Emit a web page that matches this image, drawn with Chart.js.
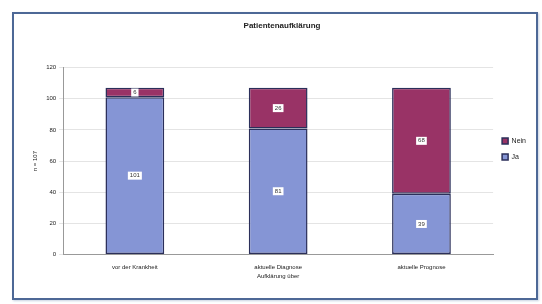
<!DOCTYPE html>
<html>
<head>
<meta charset="utf-8">
<script src="https://cdn.jsdelivr.net/npm/chart.js@4"></script>
<style>
  html, body { margin: 0; padding: 0; background: #fff; }
  #wrap { position: relative; width: 542px; height: 304px; }
  #frame {
    position: absolute; left: 12px; top: 12px; width: 522px; height: 284px;
    border: 2px solid #4d6896; box-shadow: 1px 1px 2px #c8d2e2;
  }
  canvas { position: absolute; left: 0; top: 0; }
</style>
</head>
<body>
<div id="wrap">
  <div id="frame"></div>
  <canvas id="chart" width="542" height="304"></canvas>
</div>
<script>
// Data
const categories = ['vor der Krankheit', 'aktuelle Diagnose', 'aktuelle Prognose'];
const jaValues = [101, 81, 39];
const neinValues = [6, 26, 68];
const yTicks = [0, 20, 40, 60, 80, 100, 120];

const BLUE = '#8595d5';
const RED = '#993366';

// draws the value labels in white boxes, centred in each segment
const boxLabels = {
    id: 'boxLabels',
    afterDatasetsDraw(chart) {
        const c = chart.ctx;
        c.save();
        c.font = '6px "Liberation Sans", Arial, sans-serif';
        c.textAlign = 'center';
        c.textBaseline = 'middle';
        chart.data.datasets.forEach((ds, i) => {
            chart.getDatasetMeta(i).data.forEach((bar, j) => {
                const txt = String(ds.data[j]);
                const w = c.measureText(txt).width + 4;
                const y = (bar.y + bar.base) / 2;
                c.fillStyle = '#fff';
                c.fillRect(bar.x - w / 2, y - 4, w, 8);
                c.fillStyle = '#333';
                c.fillText(txt, bar.x, y);
            });
        });
        c.restore();
    }
};

const ctx = document.getElementById('chart').getContext('2d');
new Chart(ctx, {
    type: 'bar',
    data: {
        labels: categories,
        datasets: [
            { label: 'Ja', data: jaValues, backgroundColor: BLUE, borderColor: '#2b2f5a', borderWidth: 1.5, borderSkipped: false },
            { label: 'Nein', data: neinValues, backgroundColor: RED, borderColor: '#2b2f5a', borderWidth: 1.5, borderSkipped: false }
        ]
    },
    options: {
        responsive: false,
        animation: false,
        categoryPercentage: 0.82,
        barPercentage: 0.5,
        layout: { padding: { left: 28, right: 6, top: 14, bottom: 20 } },
        plugins: {
            title: {
                display: true,
                text: 'Patientenaufklärung',
                color: '#222',
                font: { family: '"Liberation Sans", Arial', size: 8, weight: 'bold' },
                padding: { top: 7, bottom: 37 }
            },
            legend: {
                position: 'right',
                reverse: true,
                labels: {
                    boxWidth: 6, boxHeight: 6, padding: 9, color: '#222',
                    font: { family: '"Liberation Sans", Arial', size: 7 }
                }
            },
            tooltip: { enabled: false }
        },
        scales: {
            x: {
                stacked: true,
                grid: { display: false },
                border: { color: '#999' },
                ticks: { color: '#222', font: { family: '"Liberation Sans", Arial', size: 6 }, padding: 1 },
                title: {
                    display: true, text: 'Aufklärung über', color: '#222',
                    font: { family: '"Liberation Sans", Arial', size: 6 }, padding: { top: 1 }
                }
            },
            y: {
                stacked: true,
                min: 0, max: 120,
                afterBuildTicks: axis => { axis.ticks = yTicks.map(v => ({ value: v })); },
                grid: { color: '#e4e4e4', tickLength: 4 },
                border: { color: '#999' },
                ticks: { color: '#222', font: { family: '"Liberation Sans", Arial', size: 6 }, padding: 3 },
                title: {
                    display: true, text: 'n = 107', color: '#222',
                    font: { family: '"Liberation Sans", Arial', size: 6 }
                }
            }
        }
    },
    plugins: [boxLabels]
});
</script>
</body>
</html>
